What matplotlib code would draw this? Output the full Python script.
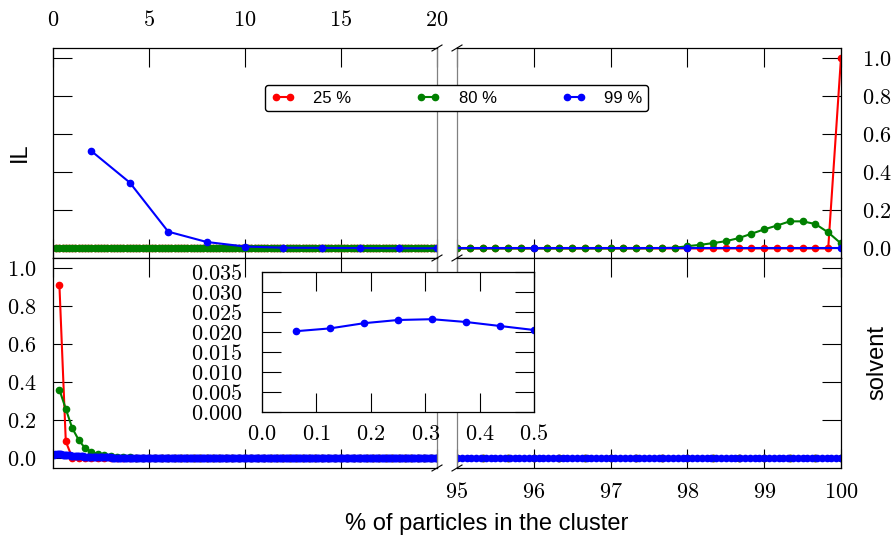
import matplotlib
matplotlib.use('Agg')
import matplotlib.pyplot as plt
from matplotlib.lines import Line2D
from matplotlib.ticker import FormatStrFormatter
import numpy as np

plt.rcParams['font.family'] = ['Liberation Sans', 'DejaVu Sans']
plt.rcParams['mathtext.fontset'] = 'cm'

# cluster size grids (% of particles)
x_sixth = np.arange(1, 601) / 6
x_third = np.arange(1, 301) / 3
x_even = np.arange(2, 101, 2)
x_16th = np.arange(1, 1601) / 16

labels = ['25 %', '80 %', '99 %']
colors = ['red', 'green', 'blue']

# IL
il_25 = [0.0] * 599 + [1.0]
il_80 = [0.0] * 584 + [0.001, 0.002, 0.0035, 0.012, 0.019, 0.028, 0.038, 0.054,
                       0.077, 0.100, 0.120, 0.142, 0.142, 0.128, 0.084, 0.026]
il_99 = [0.510, 0.345, 0.088, 0.034, 0.010, 0.004, 0.003, 0.002, 0.001, 0.001] + [0.0] * 40

# solvent
solv_25 = [0.909, 0.089, 0.004] + [0.0] * 297
solv_80 = [0.360, 0.260, 0.159, 0.098, 0.054, 0.035, 0.023, 0.016, 0.012, 0.010,
           0.008, 0.007] + [0.004] * 48 + [0.001] * 240
solv_99 = [0.0202, 0.0209, 0.0222, 0.0230, 0.0232, 0.0225, 0.0215, 0.0205,
           0.0196, 0.0188, 0.0180, 0.0172, 0.0165, 0.0158, 0.0151, 0.0145,
           0.0139, 0.0134, 0.0129, 0.0124, 0.0119, 0.0115, 0.0111, 0.0107,
           0.0103, 0.0099, 0.0096, 0.0093, 0.0090, 0.0087, 0.0084, 0.0081,
           0.0078, 0.0076, 0.0073, 0.0071, 0.0069, 0.0067, 0.0065, 0.0063,
           0.0061, 0.0059, 0.0058, 0.0056, 0.0055, 0.0053, 0.0052, 0.0051,
           0.0050, 0.0049, 0.0048, 0.0047, 0.0046, 0.0045, 0.0044, 0.0043,
           0.0042, 0.0041, 0.0041, 0.0040, 0.0040, 0.0039, 0.0039, 0.0038] \
          + [0.0035] * 256 + [0.001] * 1280

il_data = [(x_sixth, il_25), (x_sixth, il_80), (x_even, il_99)]
solv_data = [(x_third, solv_25), (x_third, solv_80), (x_16th, solv_99)]

W, H = 894, 539
fig = plt.figure(figsize=(W / 100, H / 100), dpi=100)

pw, ph = 384 / W, 210 / H
xl, xr = 53 / W, 457 / W
yt, yb = 281 / H, 71 / H

ax_tl = fig.add_axes([xl, yt, pw, ph])
ax_tr = fig.add_axes([xr, yt, pw, ph])
ax_bl = fig.add_axes([xl, yb, pw, ph])
ax_br = fig.add_axes([xr, yb, pw, ph])


def draw(ax, data):
    for (x, y), c, lab in zip(data, colors, labels):
        ax.plot(x, y, '-o', color=c, lw=1.5, ms=4.5, label=lab)


for ax, data in [(ax_tl, il_data), (ax_tr, il_data), (ax_bl, solv_data), (ax_br, solv_data)]:
    draw(ax, data)
    ax.set_ylim(-0.05, 1.05)
    ax.set_yticks([0.0, 0.2, 0.4, 0.6, 0.8, 1.0])
    ax.tick_params(direction='in', length=14, width=0.8, labelsize=16,
                   top=True, bottom=True)
    ax.yaxis.set_major_formatter(FormatStrFormatter(r'$%.1f$'))
    ax.xaxis.set_major_formatter(FormatStrFormatter(r'$%d$'))
    for s in ax.spines.values():
        s.set_linewidth(0.9)

for ax in (ax_tl, ax_bl):
    ax.set_xlim(0, 20)
    ax.set_xticks([0, 5, 10, 15, 20])
    ax.tick_params(axis='y', left=True, right=False)
    ax.spines['right'].set_color('0.5')
for ax in (ax_tr, ax_br):
    ax.set_xlim(95, 100)
    ax.set_xticks([95, 96, 97, 98, 99, 100])
    ax.tick_params(axis='y', left=False, right=True, labelleft=False)
    ax.spines['left'].set_color('0.5')

ax_tl.tick_params(axis='x', labeltop=True, labelbottom=False, pad=12)
ax_tl.tick_params(axis='y', labelleft=False)
ax_tr.tick_params(axis='x', labelbottom=False)
ax_tr.tick_params(axis='y', labelright=True, pad=15)
ax_bl.tick_params(axis='x', labelbottom=False)
ax_bl.tick_params(axis='y', pad=12)
ax_br.tick_params(axis='x', labelbottom=True, pad=10)

# break marks
dx, dy = 5 / W, 3 / H
for xb in (437 / W, 457 / W):
    for yb_ in ((H - 48) / H, (H - 258) / H, (H - 468) / H):
        fig.add_artist(Line2D([xb - dx, xb + dx], [yb_ - dy, yb_ + dy],
                              color='black', lw=0.8))

# inset with the first half percent of the solvent curve
ax_in = fig.add_axes([262 / W, (H - 412) / H, 272 / W, 140 / H], zorder=5)
ax_in.plot(x_16th, solv_99, '-o', color='blue', lw=1.5, ms=4.5)
ax_in.set_xlim(0, 0.5)
ax_in.set_ylim(0, 0.035)
ax_in.set_xticks([0.0, 0.1, 0.2, 0.3, 0.4, 0.5])
ax_in.set_yticks(np.arange(0, 0.0351, 0.005))
ax_in.xaxis.set_major_formatter(FormatStrFormatter(r'$%.1f$'))
ax_in.yaxis.set_major_formatter(FormatStrFormatter(r'$%.3f$'))
ax_in.tick_params(direction='in', length=14, width=0.8, labelsize=16,
                  top=True, right=True)
ax_in.tick_params(axis='x', pad=9)
ax_in.tick_params(axis='y', pad=14)
for s in ax_in.spines.values():
    s.set_linewidth(0.9)

handles, _ = ax_tl.get_legend_handles_labels()
fig.legend(handles, labels, loc='center', bbox_to_anchor=(456.5 / W, 1 - 98 / H),
           ncol=3, numpoints=2, fontsize=12, handlelength=1.45, handletextpad=1.1,
           columnspacing=3.9, fancybox=True, edgecolor='black', framealpha=1,
           borderpad=0.35)

fig.text(20 / W, 1 - 152 / H, 'IL', rotation=90, fontsize=17, ha='center', va='center')
fig.text(877 / W, 1 - 363 / H, 'solvent', rotation=90, fontsize=17, ha='center', va='center')
fig.text(487 / W, 1 - 524 / H, '% of particles in the cluster', fontsize=17,
         ha='center', va='center')

fig.savefig('out.png', dpi=100)
